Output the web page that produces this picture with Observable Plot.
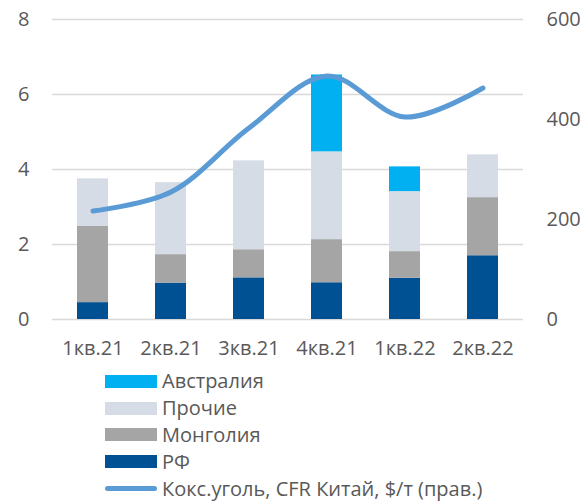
<!DOCTYPE html>
<html><head><meta charset="utf-8">
<script src="https://cdn.jsdelivr.net/npm/d3@7"></script>
<script src="https://cdn.jsdelivr.net/npm/@observablehq/plot@0.6"></script>
<style>
body{margin:0;background:#fff;font-family:"Open Sans",sans-serif;}
#wrap{position:relative;width:584px;height:503px;}
#legend{position:absolute;left:105px;top:368px;color:#595959;font-size:20px;}
.row{display:flex;align-items:center;height:26.8px;white-space:nowrap;}
.row span{line-height:20px;}
.sw{width:52px;height:13px;margin-right:5px;flex:none;}
.ln{width:52px;height:5px;border-radius:3px;margin-right:5px;flex:none;}
</style></head>
<body><div id="wrap"><div id="chart"></div><div id="legend"></div></div>
<script>
const quarters = ["1кв.21","2кв.21","3кв.21","4кв.21","1кв.22","2кв.22"];
const seriesNames = ["РФ","Монголия","Прочие","Австралия"];
const seriesColors = ["#005193","#A5A5A5","#D6DCE5","#00B0F0"];
const rf = [0.45,0.97,1.11,0.98,1.10,1.70];
const mongolia = [2.03,0.76,0.75,1.15,0.71,1.55];
const other = [1.27,1.92,2.37,2.34,1.60,1.14];
const australia = [0,0,0,2.05,0.66,0];
const coal = [217,255,383,487,405,463];
const lineName = "Кокс.уголь, CFR Китай, $/т (прав.)";
const lineColor = "#5B9BD5";
const leftTicks = [0,2,4,6,8];
const rightTicks = [0,200,400,600];
const ratio = 600/8;

const seriesValues = [rf, mongolia, other, australia];
const rows = [];
quarters.forEach((q,i)=>seriesNames.forEach((s,j)=>rows.push({q, s, v: seriesValues[j][i]})));
const lineData = quarters.map((q,i)=>({q, p: coal[i]}));

const chart = Plot.plot({
  width:584, height:370,
  marginTop:19, marginBottom:51, marginLeft:52, marginRight:61,
  style:{fontFamily:"Open Sans, sans-serif", fontSize:"20px", color:"#595959", background:"#fff"},
  x:{domain:quarters, paddingInner:0.6, paddingOuter:0.3, label:null},
  y:{domain:[0,8], label:null},
  color:{domain:seriesNames, range:seriesColors},
  marks:[
    Plot.ruleY(leftTicks,{stroke:"#D9D9D9", strokeWidth:1.5}),
    Plot.axisY({ticks:leftTicks, tickSize:0, tickPadding:23, label:null, anchor:"left"}),
    Plot.axisY({ticks:rightTicks.map(d=>d/ratio), tickFormat:d=>Math.round(d*ratio), tickSize:0, tickPadding:23, label:null, anchor:"right", textAnchor:"start"}),
    Plot.axisX({tickSize:0, tickPadding:21, label:null}),
    Plot.barY(rows, Plot.stackY({x:"q", y:"v", fill:"s", order:null})),
    Plot.line(lineData, {x:"q", y:d=>d.p/ratio, stroke:lineColor, strokeWidth:5, curve:"catmull-rom", strokeLinecap:"round"})
  ]
});
document.getElementById("chart").appendChild(chart);

const leg = document.getElementById("legend");
[...seriesNames].reverse().forEach((s)=>{
  const c = seriesColors[seriesNames.indexOf(s)];
  leg.insertAdjacentHTML("beforeend", `<div class="row"><div class="sw" style="background:${c}"></div><span>${s}</span></div>`);
});
leg.insertAdjacentHTML("beforeend", `<div class="row"><div class="ln" style="background:${lineColor}"></div><span>${lineName}</span></div>`);
</script></body></html>
